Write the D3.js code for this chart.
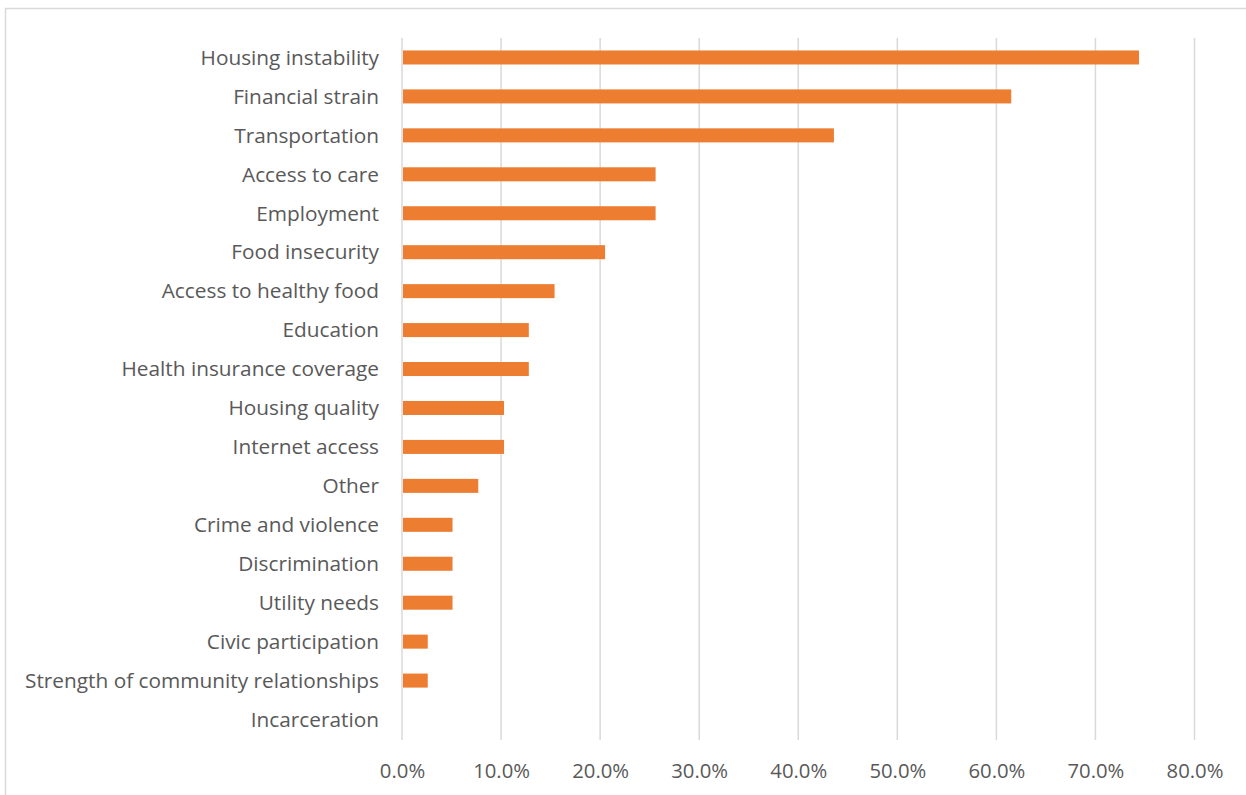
<!DOCTYPE html>
<html>
<head>
<meta charset="utf-8">
<script src="https://cdn.jsdelivr.net/npm/d3@7"></script>
<style>
  html, body { margin: 0; padding: 0; background: #fff; }
  svg { display: block; }
</style>
</head>
<body>
<svg id="chart" width="1246" height="795"></svg>
<script>
const categories = [
  "Housing instability",
  "Financial strain",
  "Transportation",
  "Access to care",
  "Employment",
  "Food insecurity",
  "Access to healthy food",
  "Education",
  "Health insurance coverage",
  "Housing quality",
  "Internet access",
  "Other ",
  "Crime and violence",
  "Discrimination",
  "Utility needs",
  "Civic participation",
  "Strength of community relationships",
  "Incarceration"
];
const values = [74.4, 61.5, 43.6, 25.6, 25.6, 20.5, 15.4, 12.8, 12.8, 10.3, 10.3, 7.7, 5.1, 5.1, 5.1, 2.6, 2.6, 0];
const tickValues = [0, 10, 20, 30, 40, 50, 60, 70, 80];

const svg = d3.select("#chart");
const font = "'Open Sans', 'Liberation Sans', sans-serif";

// chart border (top and left visible)
svg.append("path")
  .attr("d", "M5.5,795 L5.5,8.5 L1246,8.5")
  .attr("fill", "none").attr("stroke", "#d9d9d9").attr("stroke-width", 1.5);

const x = d3.scaleLinear().domain([0, 80]).range([402, 1194.5]);
const y = d3.scaleBand().domain(categories).range([38, 739]).paddingInner(0.64).paddingOuter(0.32);

// gridlines
svg.append("g").selectAll("line").data(tickValues).join("line")
  .attr("x1", d => x(d)).attr("x2", d => x(d))
  .attr("y1", 38).attr("y2", 740)
  .attr("stroke", "#d9d9d9").attr("stroke-width", 1.5);

// bars
svg.append("g").selectAll("rect").data(values).join("rect")
  .attr("x", x(0) + 1)
  .attr("y", (d, i) => y(categories[i]))
  .attr("width", d => Math.max(0, x(d) - x(0) - 1))
  .attr("height", y.bandwidth())
  .attr("fill", "#ed7d31");

// category labels
svg.append("g").selectAll("text").data(categories).join("text")
  .attr("x", 379)
  .attr("y", d => y(d) + y.bandwidth() / 2)
  .attr("dy", "0.35em")
  .attr("text-anchor", "end")
  .attr("font-family", font)
  .attr("font-size", 20.8)
  .attr("fill", "#595959")
  .text(d => d);

// x tick labels
const xAxis = d3.axisBottom(x).tickValues(tickValues).tickFormat(d => d.toFixed(1) + "%").tickSize(0).tickPadding(0);
const gx = svg.append("g").attr("transform", "translate(0,771)").call(xAxis);
gx.select(".domain").remove();
gx.selectAll("text")
  .attr("dy", "0.35em")
  .attr("font-family", font)
  .attr("font-size", 20.3)
  .attr("fill", "#595959");
</script>
</body>
</html>
